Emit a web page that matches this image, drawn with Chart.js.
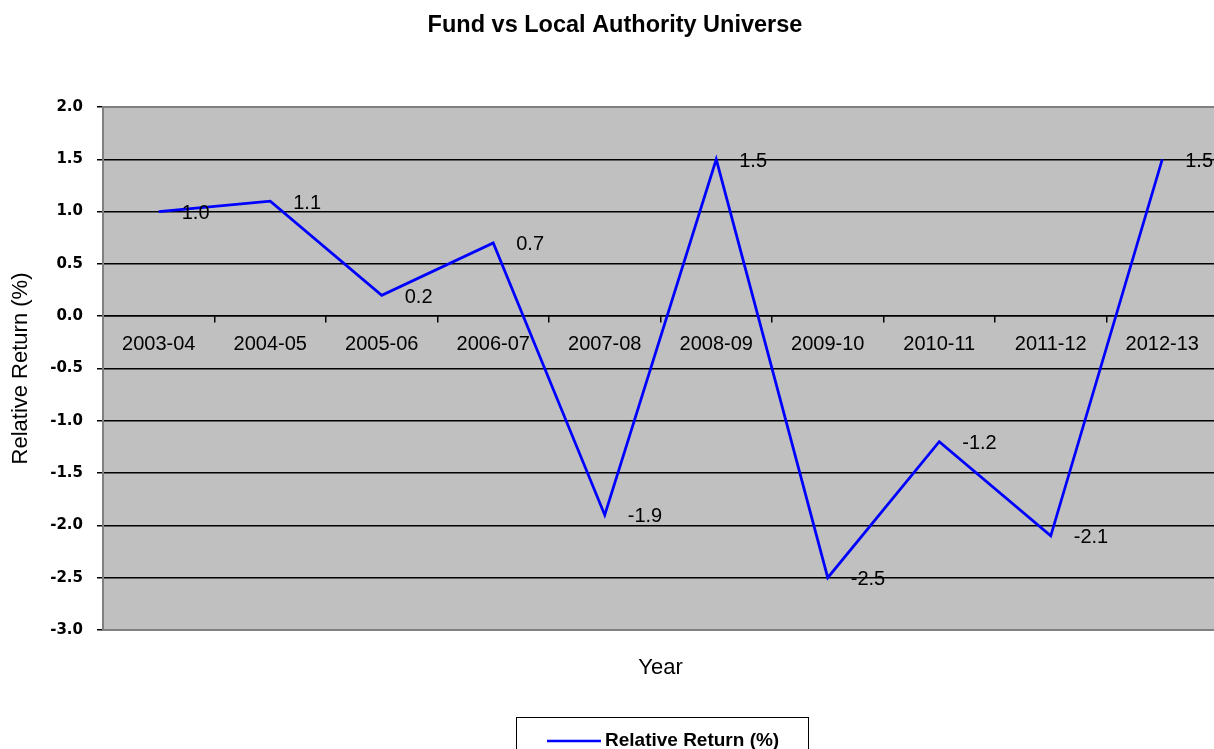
<!DOCTYPE html>
<html>
<head>
<meta charset="utf-8">
<script src="https://cdn.jsdelivr.net/npm/chart.js@4/dist/chart.umd.min.js"></script>
<style>
  html, body { margin: 0; padding: 0; background: #fff; overflow: hidden; }
  #wrap { width: 1220px; height: 749px; position: relative; }
</style>
</head>
<body>
<div id="wrap"><canvas id="c" width="1220" height="749"></canvas></div>
<script>
const chartTitle = 'Fund vs Local Authority Universe';
const xTitle = 'Year';
const yTitle = 'Relative Return (%)';
const seriesName = 'Relative Return (%)';
const categories = ['2003-04','2004-05','2005-06','2006-07','2007-08','2008-09','2009-10','2010-11','2011-12','2012-13'];
const relativeReturn = [1.0, 1.1, 0.2, 0.7, -1.9, 1.5, -2.5, -1.2, -2.1, 1.5];
const yTicks = [2.0, 1.5, 1.0, 0.5, 0.0, -0.5, -1.0, -1.5, -2.0, -2.5, -3.0];

const ARIAL = "'Liberation Sans', Arial, sans-serif";
const TAHOMA = "'DejaVu Sans', Tahoma, sans-serif";

const decor = {
  id: 'decor',
  beforeDraw(chart) {
    const {ctx, chartArea: a} = chart;
    ctx.save();
    ctx.fillStyle = '#c0c0c0';
    ctx.fillRect(a.left, a.top, a.right - a.left, a.bottom - a.top);
    ctx.restore();
  },
  afterDraw(chart) {
    const {ctx, chartArea: a} = chart;
    ctx.save();
    // plot border
    ctx.strokeStyle = '#808080';
    ctx.lineWidth = 2;
    ctx.strokeRect(a.left, a.top, a.right - a.left, a.bottom - a.top);
    // title
    ctx.fillStyle = '#000';
    ctx.textAlign = 'center';
    ctx.textBaseline = 'middle';
    ctx.font = 'bold 23.5px ' + ARIAL;
    ctx.fillText(chartTitle, 615, 26);
    // x title
    ctx.font = '22px ' + ARIAL;
    ctx.fillText(xTitle, (a.left + a.right) / 2, 668);
    // legend
    ctx.strokeStyle = '#000';
    ctx.lineWidth = 1;
    ctx.strokeRect(516.5, 717.5, 292, 45);
    ctx.strokeStyle = '#0000ff';
    ctx.lineWidth = 2.5;
    ctx.beginPath();
    ctx.moveTo(547, 741);
    ctx.lineTo(601, 741);
    ctx.stroke();
    ctx.textAlign = 'left';
    ctx.font = 'bold 19px ' + ARIAL;
    ctx.fillText(seriesName, 605, 741);
    ctx.restore();
  },
  afterDatasetsDraw(chart) {
    const {ctx} = chart;
    const meta = chart.getDatasetMeta(0);
    ctx.save();
    ctx.fillStyle = '#000';
    ctx.font = '20px ' + ARIAL;
    ctx.textAlign = 'left';
    ctx.textBaseline = 'middle';
    meta.data.forEach((p, i) => {
      ctx.fillText(relativeReturn[i].toFixed(1), p.x + 23, p.y + 2);
    });
    ctx.restore();
  }
};

new Chart(document.getElementById('c'), {
  type: 'line',
  data: {
    labels: categories,
    datasets: [{
      label: seriesName,
      data: relativeReturn,
      borderColor: '#0000ff',
      backgroundColor: '#0000ff',
      borderWidth: 2.75,
      pointRadius: 0,
      pointHoverRadius: 0,
      tension: 0,
      fill: false
    }]
  },
  options: {
    responsive: false,
    animation: false,
    events: [],
    layout: { padding: { top: 107, bottom: 119, left: 0, right: 2 } },
    plugins: {
      legend: { display: false },
      title: { display: false },
      tooltip: { enabled: false }
    },
    scales: {
      x: {
        type: 'category',
        position: { y: 0 },
        offset: true,
        grid: {
          display: true, drawOnChartArea: false, drawTicks: true,
          tickLength: 6, offset: true, color: '#000', lineWidth: 1.5
        },
        border: { display: true, color: '#000', width: 1.5 },
        ticks: { color: '#000', font: { family: ARIAL, size: 20 }, padding: 10, maxRotation: 0, autoSkip: false },
        title: { display: false }
      },
      y: {
        min: -3, max: 2,
        afterFit(s) { s.width = 103; },
        afterBuildTicks(s) { s.ticks = yTicks.map(v => ({ value: v })); },
        grid: {
          color: (c) => (c.tick && (c.tick.value === 2 || c.tick.value === -3)) ? 'rgba(0,0,0,0)' : '#000',
          tickColor: '#000',
          lineWidth: 1.5,
          tickLength: 6
        },
        border: { display: true, color: '#555', width: 2 },
        ticks: {
          color: '#000',
          font: { family: TAHOMA, size: 15, weight: 'bold' },
          padding: 14,
          callback: (v) => Number(v).toFixed(1)
        },
        title: {
          display: true, text: yTitle, color: '#000',
          font: { family: ARIAL, size: 22 },
          padding: { top: 8, bottom: 0 }
        }
      }
    }
  },
  plugins: [decor]
});
</script>
</body>
</html>
